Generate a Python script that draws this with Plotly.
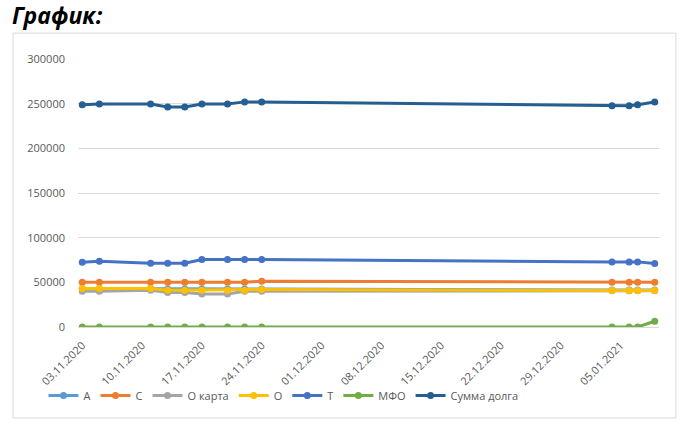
import plotly.graph_objects as go

dates = ["2020-11-03", "2020-11-05", "2020-11-11", "2020-11-13", "2020-11-15",
         "2020-11-17", "2020-11-20", "2020-11-22", "2020-11-24",
         "2021-01-04", "2021-01-06", "2021-01-07", "2021-01-09"]

series_names = ["А", "С", "О карта", "О", "Т", "МФО", "Сумма долга"]

vals_A = [43000, 43000, 43000, 42500, 42500, 42500, 42500, 42500, 42500, 41500, 41500, 41500, 41500]
vals_C = [50100, 50100, 50100, 50100, 50100, 50100, 50100, 50100, 51300, 50100, 50100, 50100, 50100]
vals_Okarta = [40000, 40000, 41000, 38600, 38600, 37000, 37000, 40000, 40000, 40500, 40500, 40500, 40500]
vals_O = [43000, 43000, 43000, 41200, 41200, 41200, 41200, 41200, 42000, 40800, 40800, 40800, 40800]
vals_T = [72600, 73700, 71500, 71500, 71500, 75600, 75600, 75600, 75600, 72900, 72900, 72900, 71100]
vals_MFO = [0, 0, 0, 0, 0, 0, 0, 0, 0, 0, 0, 0, 6400]
vals_total = [248700, 249500, 249500, 246200, 246200, 249500, 249500, 252000, 252000, 247600, 247600, 248700, 251800]

colors = ["#5B9BD5", "#ED7D31", "#A5A5A5", "#FFC000", "#4472C4", "#70AD47", "#255E91"]
all_vals = [vals_A, vals_C, vals_Okarta, vals_O, vals_T, vals_MFO, vals_total]

W, H = 683, 423
pl, pr = 77.5, 658.6
pt, pb = 59.3, 326.7
pw, ph = pr - pl, pb - pt

fig = go.Figure()
for name, vals, col in zip(series_names, all_vals, colors):
    fig.add_trace(go.Scatter(
        x=dates, y=vals, name=name, mode="lines+markers",
        line=dict(color=col, width=3),
        marker=dict(color=col, size=7),
    ))

def px_x(x):
    return (x - pl) / pw

def px_y(y):
    return (pb - y) / ph

font_fam = "Open Sans, Liberation Sans, sans-serif"

fig.update_layout(
    width=W, height=H,
    margin=dict(l=pl, r=W - pr, t=pt, b=H - pb, pad=0, autoexpand=False),
    paper_bgcolor="white", plot_bgcolor="white",
    font=dict(family=font_fam, size=11, color="#595959"),
    title=dict(text="<b><i>График:</i></b>", xref="container", yref="container",
               x=12 / W, xanchor="left", y=1 - 16 / H, yanchor="middle",
               font=dict(family=font_fam, size=23, color="black")),
    showlegend=True,
    legend=dict(orientation="h", x=px_x(43), xanchor="left", y=px_y(395), yanchor="middle",
                font=dict(size=11, color="#595959"), bgcolor="rgba(0,0,0,0)",
                itemwidth=30, tracegroupgap=0),
    xaxis=dict(
        type="date",
        range=["2020-11-02 12:00", "2021-01-09 12:00"],
        tick0="2020-11-03", dtick=7 * 86400000,
        tickformat="%d.%m.%Y", tickangle=-45,
        showgrid=False, zeroline=False, showline=False,
        ticks="", ticklabelstandoff=9, automargin=False,
        tickfont=dict(size=11, color="#595959"),
    ),
    yaxis=dict(
        range=[0, 300000], dtick=50000, tickformat="d",
        showgrid=True, gridcolor="#D9D9D9", gridwidth=1,
        zeroline=True, zerolinecolor="#D9D9D9", zerolinewidth=1,
        showline=False, ticks="", ticklabelstandoff=12, automargin=False,
        tickfont=dict(size=11, color="#595959"),
    ),
    shapes=[dict(type="rect", xref="paper", yref="paper",
                 x0=px_x(12.5), x1=px_x(675.5), y0=px_y(417.5), y1=px_y(33.5),
                 line=dict(color="#D9D9D9", width=1), fillcolor="rgba(0,0,0,0)",
                 layer="below")],
)

fig.write_html("out.html", config={"displayModeBar": False},
               post_script="document.body.style.margin='0';document.body.style.padding='0';")
